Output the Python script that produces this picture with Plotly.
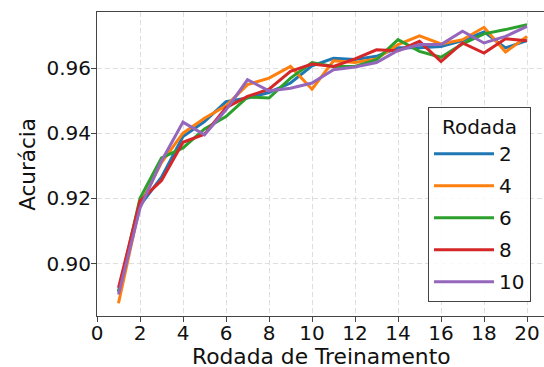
import plotly.graph_objects as go

rounds = list(range(1, 21))
labels = ["2", "4", "6", "8", "10"]
colors = ["#1f77b4", "#ff7f0e", "#2ca02c", "#d62728", "#9467bd"]

acc_2 = [0.8915, 0.9178, 0.9265, 0.9390, 0.9436, 0.9497, 0.9508, 0.9525, 0.9554, 0.9607,
         0.9630, 0.9626, 0.9636, 0.9662, 0.9662, 0.9666, 0.9684, 0.9711, 0.9662, 0.9684]
acc_4 = [0.8878, 0.9180, 0.9310, 0.9400, 0.9446, 0.9484, 0.9549, 0.9569, 0.9605, 0.9535,
         0.9622, 0.9617, 0.9628, 0.9672, 0.9699, 0.9674, 0.9687, 0.9725, 0.9649, 0.9697]
acc_6 = [0.8912, 0.9200, 0.9324, 0.9355, 0.9413, 0.9451, 0.9511, 0.9508, 0.9569, 0.9617,
         0.9605, 0.9605, 0.9626, 0.9687, 0.9651, 0.9633, 0.9674, 0.9705, 0.9718, 0.9733]
acc_8 = [0.8925, 0.9192, 0.9255, 0.9372, 0.9397, 0.9478, 0.9513, 0.9535, 0.9590, 0.9612,
         0.9605, 0.9628, 0.9656, 0.9653, 0.9682, 0.9620, 0.9677, 0.9646, 0.9690, 0.9684]
acc_10 = [0.8905, 0.9170, 0.9315, 0.9434, 0.9395, 0.9472, 0.9564, 0.9530, 0.9538, 0.9554,
          0.9595, 0.9603, 0.9617, 0.9654, 0.9672, 0.9672, 0.9713, 0.9677, 0.9697, 0.9728]

series = [acc_2, acc_4, acc_6, acc_8, acc_10]

x_ticks = list(range(0, 21, 2))
y_ticks = [0.90, 0.92, 0.94, 0.96]
x_title = "Rodada de Treinamento"
y_title = "Acurácia"
legend_title = "Rodada"

FONT = "DejaVu Sans"

fig = go.Figure()
for lab, col, ys in zip(labels, colors, series):
    fig.add_trace(go.Scatter(
        x=rounds, y=ys, mode="lines", name=lab, legendgroup=lab,
        line=dict(color=col, width=3),
    ))

axis_common = dict(
    showgrid=True, gridcolor="#dedede", griddash="5px,3px", gridwidth=1,
    zeroline=False, showline=True, linecolor="#444444", linewidth=1,
    ticks="outside", ticklen=5, tickwidth=1, tickcolor="#444444",
    tickfont=dict(family=FONT, size=20, color="#111111"),
)

fig.update_layout(
    width=544, height=367,
    margin=dict(l=97, r=0, t=12, b=51),
    paper_bgcolor="white", plot_bgcolor="white",
    font=dict(family=FONT, color="#111111"),
    xaxis=dict(range=[0, 20.79], tickvals=x_ticks, mirror=True, ticklabelstandoff=-6,
               **axis_common),
    yaxis=dict(range=[0.8839, 0.9772], tickvals=y_ticks, tickformat=".2f", mirror=False,
               ticklabelstandoff=-4, **axis_common),
    legend=dict(
        x=0.7405, y=0.687, xanchor="left", yanchor="top",
        bordercolor="#444444", borderwidth=1, bgcolor="rgba(255,255,255,0.85)",
        font=dict(family=FONT, size=20),
        title=dict(text=legend_title, side="top center", font=dict(family=FONT, size=20)),
        tracegroupgap=3, itemwidth=60,
    ),
    showlegend=True,
    annotations=[
        dict(text=x_title, xref="paper", yref="paper", x=0.503, y=-0.131,
             xanchor="center", yanchor="middle", showarrow=False, borderpad=0,
             height=22, valign="middle",
             font=dict(family=FONT, size=21.8, color="#111111")),
        dict(text=y_title, xref="paper", yref="paper", x=-0.157, y=0.5,
             xanchor="center", yanchor="middle", showarrow=False, textangle=-90,
             borderpad=0, font=dict(family=FONT, size=21.5, color="#111111")),
    ],
)

fig.write_html("out.html")
